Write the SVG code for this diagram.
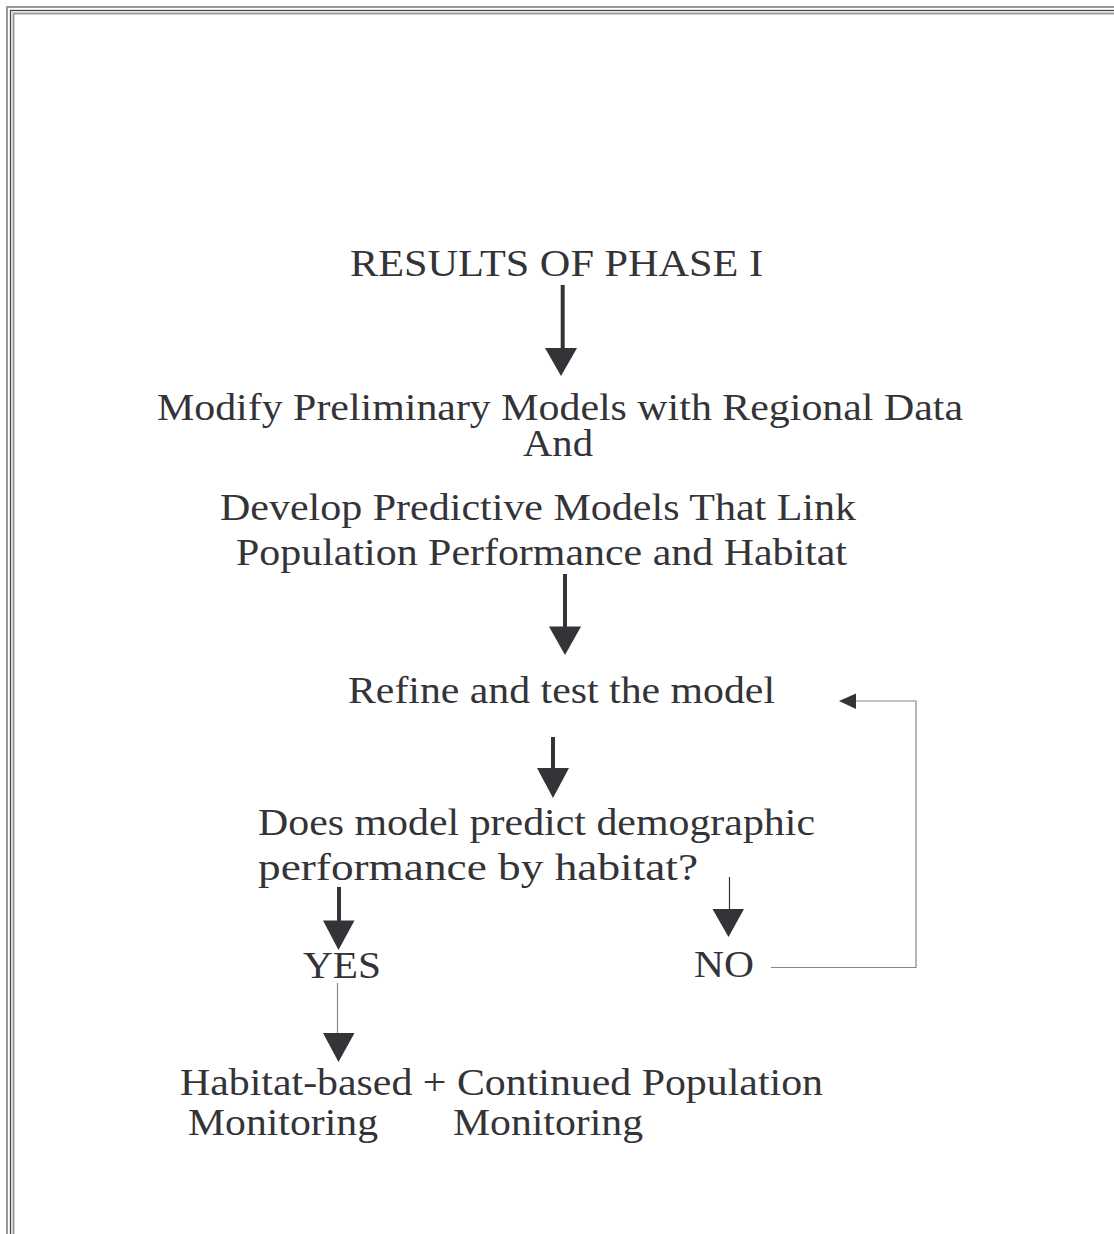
<svg xmlns="http://www.w3.org/2000/svg" width="1114" height="1234" viewBox="0 0 1114 1234">
<style>
text{font-family:"Liberation Serif","Times New Roman",serif;font-size:38px;fill:#333338}
.thick{stroke:#333338;stroke-width:4;fill:none}
.thin{stroke:#888;stroke-width:1.2;fill:none}
.thindark{stroke:#333338;stroke-width:1.2;fill:none}
.head{fill:#333338}
</style>
<rect width="1114" height="1234" fill="#fff"/>
<g id="border" fill="none">
<rect x="7" y="7" width="1200" height="1300" stroke="#999" stroke-width="2"/>
<rect x="10.5" y="10.5" width="1200" height="1300" stroke="#444" stroke-width="1.3"/>
<rect x="13.5" y="13.5" width="1200" height="1300" stroke="#999" stroke-width="2"/>
</g>
<g id="n1"><text x="350" y="276" textLength="413" lengthAdjust="spacingAndGlyphs">RESULTS OF PHASE I</text></g>
<g id="n2">
<text x="157" y="420" textLength="806" lengthAdjust="spacingAndGlyphs">Modify Preliminary Models with Regional Data</text>
<text x="523" y="456" textLength="70" lengthAdjust="spacingAndGlyphs">And</text>
<text x="220" y="520" textLength="636" lengthAdjust="spacingAndGlyphs">Develop Predictive Models That Link</text>
<text x="236" y="565" textLength="611" lengthAdjust="spacingAndGlyphs">Population Performance and Habitat</text>
</g>
<g id="n3"><text x="348" y="703" textLength="427" lengthAdjust="spacingAndGlyphs">Refine and test the model</text></g>
<g id="n4">
<text x="258" y="835" textLength="557" lengthAdjust="spacingAndGlyphs">Does model predict demographic</text>
<text x="258" y="880" textLength="440" lengthAdjust="spacingAndGlyphs">performance by habitat?</text>
</g>
<g id="n5"><text x="303" y="978" textLength="78" lengthAdjust="spacingAndGlyphs">YES</text></g>
<g id="n6"><text x="694" y="977" textLength="60" lengthAdjust="spacingAndGlyphs">NO</text></g>
<g id="n7">
<text x="180" y="1095" textLength="643" lengthAdjust="spacingAndGlyphs">Habitat-based + Continued Population</text>
<text x="188" y="1135" textLength="190" lengthAdjust="spacingAndGlyphs">Monitoring</text>
<text x="453" y="1135" textLength="190" lengthAdjust="spacingAndGlyphs">Monitoring</text>
</g>
<g id="connectors">
<line class="thick" x1="562.7" y1="285" x2="562.7" y2="350"/>
<polygon class="head" points="545,348 577,348 561,376"/>
<line class="thick" x1="565" y1="574" x2="565" y2="628"/>
<polygon class="head" points="549,626.5 581,626.5 565,655"/>
<line class="thick" x1="553" y1="737" x2="553" y2="770"/>
<polygon class="head" points="537,768 569,768 553,798"/>
<line class="thick" x1="339" y1="887" x2="339" y2="922"/>
<polygon class="head" points="323,920.5 354.5,920.5 338.5,950"/>
<line class="thin" x1="337.5" y1="983" x2="337.5" y2="1034"/>
<polygon class="head" points="323,1033 354.5,1033 338.5,1062"/>
<line class="thindark" x1="729.5" y1="877" x2="729.5" y2="910"/>
<polygon class="head" points="712.5,909 744,909 728.5,937"/>
<polyline class="thin" points="771,967.5 916,967.5 916,701 855,701"/>
<polygon class="head" points="839,701 856,693.5 856,709"/>
</g>
</svg>
